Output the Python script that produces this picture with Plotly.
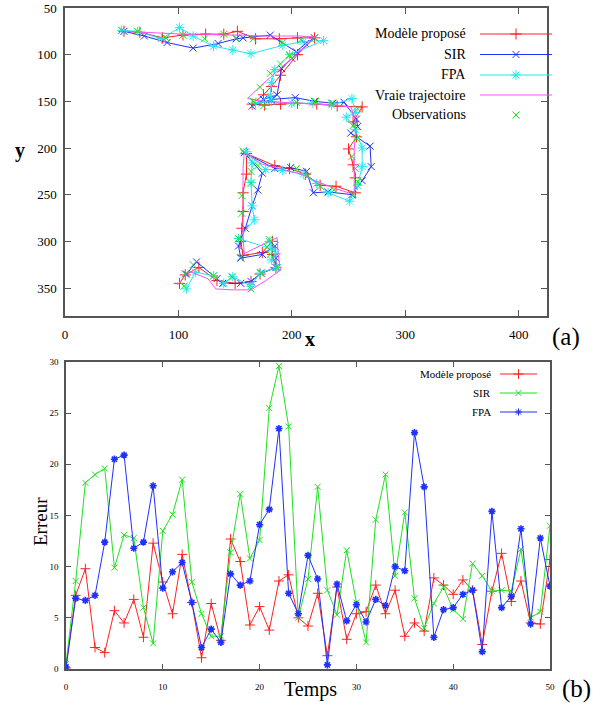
import plotly.graph_objects as go

# ---------------- (a) trajectories ----------------
true_x = [52, 66, 86, 104, 122, 140, 156, 172, 190, 206, 221, 208, 196, 185, 173, 161, 175, 190, 206, 222,
          238, 252, 256, 256, 255, 255, 255, 255, 240, 224, 208, 190, 173, 158, 157, 157, 157, 157, 157, 158,
          172, 187, 188, 190, 177, 164, 148, 133, 126, 109, 99]
true_y = [75, 76, 77, 78, 78, 79, 79, 80, 80, 80, 81, 95, 108, 120, 133, 147, 150, 151, 152, 153,
          154, 156, 170, 186, 202, 218, 234, 250, 244, 237, 228, 222, 217, 205, 222, 240, 258, 276, 294, 313,
          305, 296, 314, 331, 342, 352, 352, 351, 340, 332, 347]

obs_x = [50, 64, 89, 104, 123, 140, 151, 166, 192, 208, 220, 198, 190, 181, 172, 166, 175, 182, 204, 221,
         235, 258, 254, 257, 253, 256, 258, 254, 237, 225, 214, 204, 170, 157, 164, 164, 156, 156, 153, 155,
         178, 180, 181, 187, 173, 164, 147, 131, 113, 106, 105]
obs_y = [74, 75, 82, 79, 83, 78, 82, 83, 87, 84, 82, 101, 110, 120, 135, 150, 155, 149, 151, 150,
         152, 158, 176, 190, 209, 222, 236, 250, 245, 241, 230, 222, 219, 203, 225, 238, 251, 270, 297, 317,
         306, 298, 314, 328, 334, 351, 338, 337, 325, 335, 348]

mod_x = [52, 66, 86, 104, 124, 140, 152, 168, 189, 205, 220, 205, 190, 182, 175, 165, 176, 190, 205, 222,
         240, 262, 254, 257, 250, 254, 256, 256, 239, 225, 212, 198, 185, 160, 160, 157, 157, 156, 155, 157,
         174, 183, 183, 186, 172, 164, 150, 134, 118, 106, 101]
mod_y = [75, 76, 82, 79, 78, 78, 75, 83, 83, 82, 82, 100, 122, 134, 143, 153, 154, 153, 152, 153,
         155, 156, 172, 188, 201, 218, 232, 248, 241, 240, 228, 222, 219, 206, 228, 248, 268, 286, 300, 315,
         312, 300, 314, 328, 335, 343, 345, 342, 328, 336, 345]

sir_x = [52, 70, 90, 113, 135, 151, 157, 181, 204, 212, 220, 200, 191, 187, 175, 165, 182, 203, 220, 236,
         246, 257, 258, 252, 269, 270, 262, 253, 232, 219, 213, 199, 185, 158, 174, 170, 165, 159, 153, 155,
         174, 185, 186, 186, 173, 164, 155, 139, 134, 116, 107]
sir_y = [75, 80, 87, 93, 88, 83, 82, 79, 97, 88, 82, 104, 115, 143, 148, 155, 148, 146, 150, 152,
         151, 169, 177, 184, 198, 220, 235, 250, 247, 248, 225, 221, 222, 205, 227, 245, 262, 286, 305, 318,
         314, 305, 318, 328, 334, 343, 345, 345, 340, 322, 335]

fpa_x = [50, 64, 85, 101, 113, 131, 148, 164, 192, 210, 228, 198, 185, 182, 181, 168, 182, 200, 218, 235,
         253, 256, 248, 256, 262, 262, 258, 251, 232, 222, 210, 192, 177, 160, 165, 164, 165, 167, 153, 182,
         180, 186, 182, 187, 172, 164, 148, 140, 131, 115, 107]
fpa_y = [74, 75, 83, 71, 80, 91, 95, 99, 90, 86, 85, 100, 116, 130, 144, 152, 150, 152, 152, 154,
         147, 162, 167, 180, 200, 220, 240, 257, 248, 238, 228, 224, 223, 204, 216, 237, 262, 277, 297, 308,
         300, 313, 320, 328, 334, 348, 338, 345, 337, 333, 351]

# ---------------- (b) errors ----------------
temps = list(range(51))
err_mod = [0.1, 7.2, 9.8, 2.1, 1.6, 5.7, 4.5, 6.8, 3.1, 12.3, 8.5, 5.4, 11.2, 6.5, 1.1, 6.4, 2.8, 12.7, 10.5, 4.3,
           6.1, 3.8, 8.6, 9.2, 5.0, 4.2, 7.4, 1.3, 8.0, 2.9, 5.4, 5.6, 8.2, 5.4, 7.7, 3.2, 4.5, 3.7, 8.9, 8.2,
           7.3, 8.7, 7.7, 2.4, 7.6, 11.3, 6.6, 8.6, 4.5, 4.4, 10.7]
err_sir = [0.5, 8.6, 18.2, 19.0, 19.6, 9.9, 13.1, 12.8, 6.0, 2.5, 13.5, 15.1, 18.5, 8.5, 5.4, 3.2, 3.2, 11.4, 17.1, 10.8,
           12.6, 25.5, 29.6, 23.7, 5.0, 8.8, 17.8, 7.7, 5.3, 11.6, 6.5, 2.6, 14.6, 19.0, 9.1, 15.3, 6.9, 4.0, 6.4, 8.0,
           5.8, 4.9, 10.3, 9.1, 7.6, 7.7, 7.6, 11.7, 5.0, 5.6, 14.0]
err_fpa = [0.2, 6.9, 6.7, 7.2, 12.4, 20.5, 20.9, 11.8, 12.4, 17.9, 7.9, 9.5, 10.4, 6.5, 2.1, 3.9, 2.6, 9.3, 8.2, 8.6,
           14.1, 15.6, 23.5, 7.4, 5.4, 11.1, 8.8, 0.4, 8.3, 4.7, 6.3, 4.6, 6.8, 6.2, 10.0, 9.6, 23.1, 17.8, 3.1, 5.8,
           6.0, 7.3, 7.7, 1.7, 15.4, 6.0, 7.1, 13.7, 4.4, 12.8, 8.1]

names_a = ["Modèle proposé", "SIR", "FPA", "Vraie trajectoire", "Observations"]
names_b = ["Modèle proposé", "SIR", "FPA"]

RED = "#ff2020"
BLUE = "#2030ff"
CYAN = "#20e8f0"
MAG = "#ff50ff"
GREEN = "#20e020"
FONT = "Liberation Serif"

fig = go.Figure()

def mk(sym, size, col, w=1.0):
    return dict(symbol=sym, size=size, color=col, line=dict(width=w, color=col))

# (a)
fig.add_trace(go.Scatter(x=mod_x, y=mod_y, mode="lines+markers", line=dict(color=RED, width=1),
                         marker=mk("cross-thin-open", 8, RED), xaxis="x", yaxis="y", showlegend=False))
fig.add_trace(go.Scatter(x=sir_x, y=sir_y, mode="lines+markers", line=dict(color=BLUE, width=1),
                         marker=mk("x-thin-open", 7, BLUE), xaxis="x", yaxis="y", showlegend=False))
fig.add_trace(go.Scatter(x=fpa_x, y=fpa_y, mode="lines+markers", line=dict(color=CYAN, width=1),
                         marker=mk("asterisk-open", 8, CYAN), xaxis="x", yaxis="y", showlegend=False))
fig.add_trace(go.Scatter(x=true_x, y=true_y, mode="lines", line=dict(color=MAG, width=1),
                         xaxis="x", yaxis="y", showlegend=False))
fig.add_trace(go.Scatter(x=obs_x, y=obs_y, mode="markers",
                         marker=mk("x-thin-open", 7, GREEN), xaxis="x", yaxis="y", showlegend=False))

# (b)
fig.add_trace(go.Scatter(x=temps, y=err_mod, mode="lines+markers", line=dict(color=RED, width=1),
                         marker=mk("cross-thin-open", 7, RED), xaxis="x2", yaxis="y2", showlegend=False))
fig.add_trace(go.Scatter(x=temps, y=err_sir, mode="lines+markers", line=dict(color=GREEN, width=1),
                         marker=mk("x-thin-open", 6, GREEN), xaxis="x2", yaxis="y2", showlegend=False))
fig.add_trace(go.Scatter(x=temps, y=err_fpa, mode="lines+markers", line=dict(color=BLUE, width=1),
                         marker=mk("asterisk-open", 6, BLUE, 1.6), xaxis="x2", yaxis="y2", showlegend=False))

# ---- custom gnuplot-like legends on a pixel overlay axis ----
W, H = 600, 708
leg_a_rows = [34, 54.5, 75, 95, 115]
leg_a_styles = [("lines+markers", RED, "cross-thin-open", 8),
                ("lines+markers", BLUE, "x-thin-open", 7),
                ("lines+markers", CYAN, "asterisk-open", 8),
                ("lines", MAG, None, 0),
                ("markers", GREEN, "x-thin-open", 7)]
leg_a_text_right, leg_a_x0, leg_a_x1 = 468, 480, 552
leg_b_rows = [374, 393, 412]
leg_b_styles = [("lines+markers", RED, "cross-thin-open", 7),
                ("lines+markers", GREEN, "x-thin-open", 6),
                ("lines+markers", BLUE, "asterisk-open", 6)]
leg_b_text_right, leg_b_x0, leg_b_x1 = 493, 500, 537

annotations = []

def add_legend(names, rows, styles, tr, x0, x1, fsize):
    for nm, yy, (mode, col, sym, sz) in zip(names, rows, styles):
        if "lines" in mode:
            fig.add_trace(go.Scatter(x=[x0, x1], y=[yy, yy], mode="lines", line=dict(color=col, width=1),
                                     xaxis="x3", yaxis="y3", showlegend=False, hoverinfo="skip"))
        if "markers" in mode:
            fig.add_trace(go.Scatter(x=[(x0 + x1) / 2], y=[yy], mode="markers", marker=mk(sym, sz, col),
                                     xaxis="x3", yaxis="y3", showlegend=False, hoverinfo="skip"))
        annotations.append(dict(x=tr / W, y=1 - yy / H, xref="paper", yref="paper", text=nm, showarrow=False,
                                xanchor="right", yanchor="middle", font=dict(family=FONT, size=fsize, color="black")))

add_legend(names_a, leg_a_rows, leg_a_styles, leg_a_text_right, leg_a_x0, leg_a_x1, 14)
add_legend(names_b, leg_b_rows, leg_b_styles, leg_b_text_right, leg_b_x0, leg_b_x1, 11)

def lab(text, px, py, size, angle=0):
    annotations.append(dict(x=px / W, y=1 - py / H, xref="paper", yref="paper", text=text, showarrow=False,
                            xanchor="center", yanchor="middle", textangle=angle,
                            font=dict(family=FONT, size=size, color="black")))

lab("<b>y</b>", 20, 150, 20)
lab("<b>x</b>", 310, 339, 20)
lab("(a)", 566, 337, 25)
lab("Erreur", 40, 522, 19, -90)
lab("Temps", 310, 689, 20)
lab("(b)", 576, 689, 25)

AX = dict(showline=True, linecolor="#555555", linewidth=1.5, mirror="ticks", ticks="inside",
          tickcolor="#555555", showgrid=False, zeroline=False, automargin=False)

fig.update_layout(
    width=W, height=H, margin=dict(l=0, r=0, t=0, b=0, autoexpand=False),
    paper_bgcolor="white", plot_bgcolor="rgba(0,0,0,0)", showlegend=False,
    xaxis=dict(domain=[65 / W, 547 / W], range=[0, 425], tickvals=[0, 100, 200, 300, 400], ticklen=6,
               tickfont=dict(family=FONT, size=13, color="black"), ticklabelstandoff=6, anchor="y", **AX),
    yaxis=dict(domain=[1 - 316 / H, 1 - 8 / H], range=[380, 50], tickvals=[50, 100, 150, 200, 250, 300, 350],
               ticklen=6, tickfont=dict(family=FONT, size=13, color="black"), ticklabelstandoff=4, anchor="x", **AX),
    xaxis2=dict(domain=[66 / W, 550 / W], range=[0, 50], tickvals=[0, 10, 20, 30, 40, 50], ticklen=5,
                tickfont=dict(family=FONT, size=9, color="black"), ticklabelstandoff=8, anchor="y2", **AX),
    yaxis2=dict(domain=[1 - 669 / H, 1 - 362 / H], range=[0, 30], tickvals=[0, 5, 10, 15, 20, 25, 30], ticklen=5,
                tickfont=dict(family=FONT, size=9, color="black"), ticklabelstandoff=4, anchor="x2", **AX),
    xaxis3=dict(domain=[0, 1], range=[0, W], visible=False, fixedrange=True, anchor="y3", automargin=False),
    yaxis3=dict(domain=[0, 1], range=[H, 0], visible=False, fixedrange=True, anchor="x3", automargin=False),
    annotations=annotations,
)

fig.write_html("out.html", config={"displayModeBar": False},
               post_script="document.body.style.margin='0px';")
